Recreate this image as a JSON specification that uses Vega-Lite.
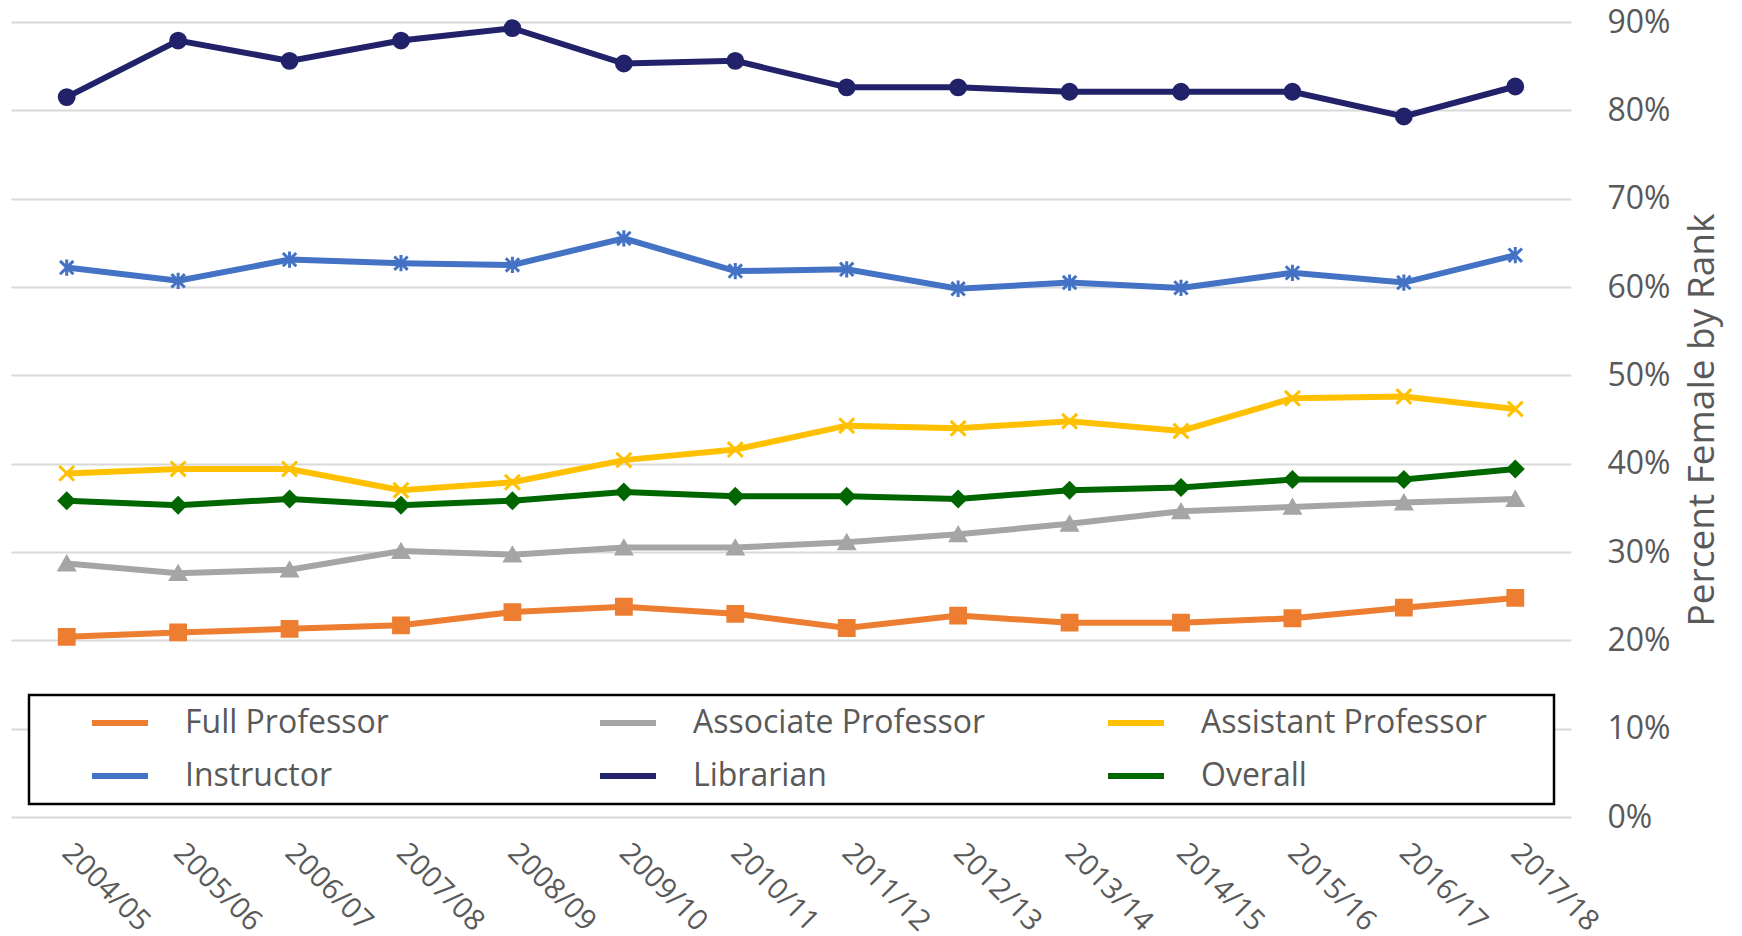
{
  "$schema": "https://vega.github.io/schema/vega-lite/v6.json",
  "width": 1560,
  "height": 795,
  "autosize": {"type": "none"},
  "padding": {"left": 11, "top": 22, "right": 171, "bottom": 119},
  "config": {"view": {"stroke": null}, "font": "Open Sans"},
  "datasets": {
    "wide": [
      {"year": "2004/05", "Full Professor": 0.204, "Associate Professor": 0.287, "Assistant Professor": 0.389, "Instructor": 0.622, "Librarian": 0.815, "Overall": 0.358},
      {"year": "2005/06", "Full Professor": 0.209, "Associate Professor": 0.276, "Assistant Professor": 0.394, "Instructor": 0.607, "Librarian": 0.879, "Overall": 0.353},
      {"year": "2006/07", "Full Professor": 0.213, "Associate Professor": 0.280, "Assistant Professor": 0.394, "Instructor": 0.631, "Librarian": 0.856, "Overall": 0.360},
      {"year": "2007/08", "Full Professor": 0.217, "Associate Professor": 0.301, "Assistant Professor": 0.370, "Instructor": 0.627, "Librarian": 0.879, "Overall": 0.353},
      {"year": "2008/09", "Full Professor": 0.232, "Associate Professor": 0.297, "Assistant Professor": 0.379, "Instructor": 0.625, "Librarian": 0.893, "Overall": 0.358},
      {"year": "2009/10", "Full Professor": 0.238, "Associate Professor": 0.305, "Assistant Professor": 0.404, "Instructor": 0.655, "Librarian": 0.853, "Overall": 0.368},
      {"year": "2010/11", "Full Professor": 0.230, "Associate Professor": 0.305, "Assistant Professor": 0.416, "Instructor": 0.618, "Librarian": 0.856, "Overall": 0.363},
      {"year": "2011/12", "Full Professor": 0.214, "Associate Professor": 0.311, "Assistant Professor": 0.443, "Instructor": 0.620, "Librarian": 0.826, "Overall": 0.363},
      {"year": "2012/13", "Full Professor": 0.228, "Associate Professor": 0.320, "Assistant Professor": 0.440, "Instructor": 0.598, "Librarian": 0.826, "Overall": 0.360},
      {"year": "2013/14", "Full Professor": 0.220, "Associate Professor": 0.332, "Assistant Professor": 0.448, "Instructor": 0.605, "Librarian": 0.821, "Overall": 0.370},
      {"year": "2014/15", "Full Professor": 0.220, "Associate Professor": 0.346, "Assistant Professor": 0.437, "Instructor": 0.599, "Librarian": 0.821, "Overall": 0.373},
      {"year": "2015/16", "Full Professor": 0.225, "Associate Professor": 0.351, "Assistant Professor": 0.474, "Instructor": 0.616, "Librarian": 0.821, "Overall": 0.382},
      {"year": "2016/17", "Full Professor": 0.237, "Associate Professor": 0.356, "Assistant Professor": 0.476, "Instructor": 0.605, "Librarian": 0.793, "Overall": 0.382},
      {"year": "2017/18", "Full Professor": 0.248, "Associate Professor": 0.360, "Assistant Professor": 0.462, "Instructor": 0.636, "Librarian": 0.827, "Overall": 0.394}
    ]
  },
  "data": {"name": "wide"},
  "encoding": {
    "x": {
      "field": "year", "type": "ordinal",
      "scale": {"type": "point", "padding": 0.5},
      "axis": {
        "title": null, "labelAngle": 45, "labelAlign": "left", "labelBaseline": "middle",
        "labelFontSize": 29, "labelColor": "#595959", "labelPadding": 31,
        "ticks": false, "domain": false, "grid": false
      }
    },
    "y": {
      "field": "pct", "type": "quantitative",
      "scale": {"domain": [0, 0.9]},
      "axis": {
        "orient": "right", "values": [0, 0.1, 0.2, 0.3, 0.4, 0.5, 0.6, 0.7, 0.8, 0.9],
        "format": ".0%", "labelFontSize": 32, "labelColor": "#595959", "labelPadding": 36,
        "labelAlign": "left", "labelBaseline": "middle",
        "ticks": false, "domain": false, "gridColor": "#D9D9D9", "gridWidth": 2,
        "title": "Percent Female by Rank", "titleFontSize": 37, "titleFontWeight": "normal",
        "titleColor": "#595959", "titlePadding": 14, "titleAngle": 270, "titleBaseline": "top"
      }
    }
  },
  "layer": [
    {
      "transform": [
        {"fold": ["Full Professor", "Associate Professor", "Assistant Professor", "Instructor", "Librarian", "Overall"], "as": ["rank", "pct"]}
      ],
      "mark": {"type": "line", "strokeWidth": 6},
      "encoding": {
        "color": {
          "field": "rank", "type": "nominal",
          "scale": {
            "domain": ["Full Professor", "Associate Professor", "Assistant Professor", "Instructor", "Librarian", "Overall"],
            "range": ["#ED7D31", "#A5A5A5", "#FFC000", "#4472C4", "#22226B", "#006600"]
          },
          "legend": {
            "orient": "none", "legendX": 18, "legendY": 673, "columns": 3, "direction": "horizontal",
            "gridAlign": "all", "symbolType": "M-2.8,0L2.8,0", "symbolSize": 400, "symbolStrokeWidth": 6,
            "symbolOffset": 63,
            "labelFontSize": 32, "labelColor": "#595959", "labelOffset": 49, "labelLimit": 600,
            "rowPadding": 21, "columnPadding": 72, "padding": 12,
            "strokeColor": "#000000", "fillColor": "#FFFFFF",
            "title": " ", "titleOrient": "right", "titlePadding": 55, "titleFontSize": 1,
            "encode": {"legend": {"update": {"strokeWidth": {"value": 2.5}}}}
          }
        }
      }
    },
    {
      "transform": [
        {"fold": ["Full Professor", "Associate Professor", "Assistant Professor", "Instructor", "Librarian", "Overall"], "as": ["series", "pct"]}
      ],
      "mark": {"type": "point", "filled": true, "size": 220, "strokeWidth": 3, "opacity": 1},
      "encoding": {
        "fill": {
          "field": "series", "type": "nominal", "legend": null,
          "scale": {"range": ["#FFC000", "#A5A5A5", "#ED7D31", "#4472C4", "#22226B", "#006600"]}
        },
        "stroke": {
          "field": "series", "type": "nominal", "legend": null,
          "scale": {"range": ["#FFC000", "#A5A5A5", "#ED7D31", "#4472C4", "#22226B", "#006600"]}
        },
        "shape": {
          "field": "series", "type": "nominal", "legend": null,
          "scale": {"range": ["M-1,-1L1,1M-1,1L1,-1", "triangle-up", "square", "M-0.9,-0.9L0.9,0.9M-0.9,0.9L0.9,-0.9M0,-1.1L0,1.1", "circle", "diamond"]}
        }
      }
    }
  ]
}
